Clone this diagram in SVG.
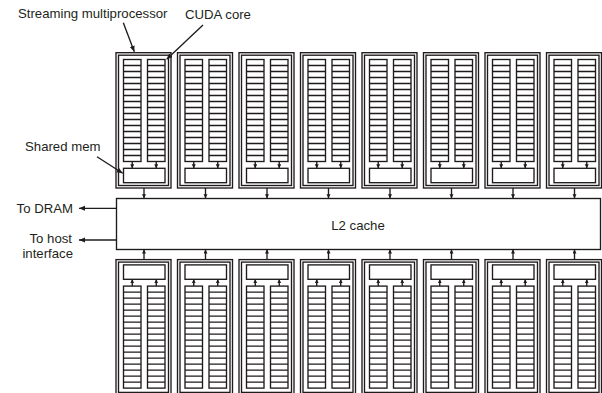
<svg xmlns="http://www.w3.org/2000/svg" width="602" height="393" viewBox="0 0 602 393">
<style>
.ln{fill:none;stroke:#1f1b1c;stroke-width:1.35}
.bx{fill:#fff;stroke:#1f1b1c;stroke-width:1.35}
.t{font-family:"Liberation Sans",Arial,Helvetica,sans-serif;font-size:13.2px;fill:#231f20}
</style>
<defs>
<marker id="ah" markerUnits="userSpaceOnUse" markerWidth="7" markerHeight="6" refX="6" refY="2.5" orient="auto"><path d="M0,0 L6,2.5 L0,5z" fill="#1f1b1c"/></marker>
<marker id="as" markerUnits="userSpaceOnUse" markerWidth="5" markerHeight="5" refX="4" refY="2" orient="auto"><path d="M0,0 L4,2 L0,4z" fill="#1f1b1c"/></marker>
<g id="col">
<rect class="bx" x="0" y="0" width="17.5" height="102"/>
<path class="ln" d="M0 6H17.5M0 12H17.5M0 18H17.5M0 24H17.5M0 30H17.5M0 36H17.5M0 42H17.5M0 48H17.5M0 54H17.5M0 60H17.5M0 66H17.5M0 72H17.5M0 78H17.5M0 84H17.5M0 90H17.5M0 96H17.5"/>
</g>
<g id="sm">
<rect class="bx" x="0" y="52.7" width="55" height="135.3"/>
<rect class="ln" x="2.5" y="55.2" width="50" height="130.3"/>
<use href="#col" x="7.5" y="59.5"/>
<use href="#col" x="31.5" y="59.5"/>
<path class="ln" d="M16.25 161.5V168.3" marker-end="url(#as)"/>
<path class="ln" d="M40.25 161.5V168.3" marker-end="url(#as)"/>
<rect class="bx" x="7.5" y="168.3" width="41.5" height="14.4"/>
</g>
</defs>
<rect width="602" height="393" fill="#fff"/>
<g id="sm-top-1"><use href="#sm" transform="translate(116,0)"/></g>
<g id="sm-top-2"><use href="#sm" transform="translate(177.5,0)"/></g>
<g id="sm-top-3"><use href="#sm" transform="translate(239,0)"/></g>
<g id="sm-top-4"><use href="#sm" transform="translate(300.5,0)"/></g>
<g id="sm-top-5"><use href="#sm" transform="translate(362,0)"/></g>
<g id="sm-top-6"><use href="#sm" transform="translate(423.5,0)"/></g>
<g id="sm-top-7"><use href="#sm" transform="translate(485,0)"/></g>
<g id="sm-top-8"><use href="#sm" transform="translate(546.5,0)"/></g>
<g id="sm-bot-1"><use href="#sm" transform="translate(116,447.6) scale(1,-1)"/></g>
<g id="sm-bot-2"><use href="#sm" transform="translate(177.5,447.6) scale(1,-1)"/></g>
<g id="sm-bot-3"><use href="#sm" transform="translate(239,447.6) scale(1,-1)"/></g>
<g id="sm-bot-4"><use href="#sm" transform="translate(300.5,447.6) scale(1,-1)"/></g>
<g id="sm-bot-5"><use href="#sm" transform="translate(362,447.6) scale(1,-1)"/></g>
<g id="sm-bot-6"><use href="#sm" transform="translate(423.5,447.6) scale(1,-1)"/></g>
<g id="sm-bot-7"><use href="#sm" transform="translate(485,447.6) scale(1,-1)"/></g>
<g id="sm-bot-8"><use href="#sm" transform="translate(546.5,447.6) scale(1,-1)"/></g>
<g id="l2">
<rect class="bx" x="116.5" y="198.5" width="484" height="51"/>
<text class="t" x="358" y="229.5" text-anchor="middle">L2 cache</text>
</g>
<g id="connectors">
<path class="ln" d="M144 188V198.3" marker-end="url(#as)"/>
<path class="ln" d="M205.5 188V198.3" marker-end="url(#as)"/>
<path class="ln" d="M267 188V198.3" marker-end="url(#as)"/>
<path class="ln" d="M328.5 188V198.3" marker-end="url(#as)"/>
<path class="ln" d="M390 188V198.3" marker-end="url(#as)"/>
<path class="ln" d="M451.5 188V198.3" marker-end="url(#as)"/>
<path class="ln" d="M513 188V198.3" marker-end="url(#as)"/>
<path class="ln" d="M574.5 188V198.3" marker-end="url(#as)"/>
<path class="ln" d="M144 259.6V249.5" marker-end="url(#as)"/>
<path class="ln" d="M205.5 259.6V249.5" marker-end="url(#as)"/>
<path class="ln" d="M267 259.6V249.5" marker-end="url(#as)"/>
<path class="ln" d="M328.5 259.6V249.5" marker-end="url(#as)"/>
<path class="ln" d="M390 259.6V249.5" marker-end="url(#as)"/>
<path class="ln" d="M451.5 259.6V249.5" marker-end="url(#as)"/>
<path class="ln" d="M513 259.6V249.5" marker-end="url(#as)"/>
<path class="ln" d="M574.5 259.6V249.5" marker-end="url(#as)"/>
<path class="ln" d="M116.5 208.3H79" marker-end="url(#ah)"/>
<path class="ln" d="M116.5 240H79" marker-end="url(#ah)"/>
<path class="ln" d="M123.3 22.7L134.3 51.7" marker-end="url(#ah)"/>
<path class="ln" d="M203 25L166.7 59.3" marker-end="url(#ah)"/>
<path class="ln" d="M97 156.7L122.7 173.3" marker-end="url(#ah)"/>
</g>
<g id="labels">
<text class="t" x="18" y="17.5">Streaming multiprocessor</text>
<text class="t" x="185" y="18.5">CUDA core</text>
<text class="t" x="25" y="150.5">Shared mem</text>
<text class="t" x="73" y="213.3" text-anchor="end">To DRAM</text>
<text class="t" x="72" y="243.3" text-anchor="end">To host</text>
<text class="t" x="73" y="258.3" text-anchor="end">interface</text>
</g>
</svg>
